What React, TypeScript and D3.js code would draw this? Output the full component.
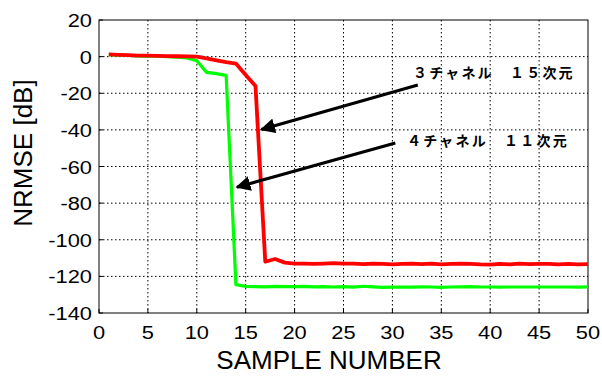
import React, { useEffect, useRef } from 'react';
import * as d3 from 'd3';

// sample index 1..50
const samples = d3.range(1, 51);

// 3 channel / 15 dim (red)
const red3ch = [
  1.2, 1.0, 0.8, 0.6, 0.5, 0.4, 0.3, 0.2, 0.1, 0,
  -1.0, -2.0, -3.0, -3.8, -10, -16, -112, -110.5, -112.5, -113,
  -113, -113.2, -113, -112.8, -113, -113, -113.3, -113, -113.2, -113.5,
  -113.2, -113, -113.3, -113, -113.5, -113.2, -113, -113.2, -113.5, -113.6,
  -113.2, -113.4, -113, -113.3, -113.2, -113.2, -113.4, -113.2, -113.5, -113.3,
];

// 4 channel / 11 dim (green)
const green4ch = [
  1.1, 0.8, 0.6, 0.4, 0.3, 0.2, 0.0, -0.3, -0.7, -2.3,
  -8.6, -9.3, -10.2, -124.5, -125.5, -125.6, -125.7, -125.5, -125.6, -125.6,
  -125.5, -125.7, -125.6, -125.8, -125.6, -125.9, -125.4, -125.7, -126, -125.9,
  -125.8, -125.9, -125.7, -125.8, -126, -125.8, -125.7, -125.6, -125.8, -125.8,
  -125.9, -125.8, -125.8, -125.8, -125.8, -125.8, -125.8, -125.8, -125.9, -125.7,
];

const xTicks = [0, 5, 10, 15, 20, 25, 30, 35, 40, 45, 50];
const yTicks = [20, 0, -20, -40, -60, -80, -100, -120, -140];

// annotations, in data units: text position, arrow tail, arrow head
const notes = [
  { label: '３チャネル　１５次元', tx: 32.1, ty: -11.5, x0: 32.6, y0: -15.5, x1: 16.6, y1: -39.8 },
  { label: '４チャネル　１１次元', tx: 31.5, ty: -48.6, x0: 30.3, y0: -47.2, x1: 14.1, y1: -71.3 },
];

const App = () => {
  const svgRef = useRef<SVGSVGElement>(null);

  useEffect(() => {
    const width = 602;
    const height = 376;
    const margin = { top: 20, right: 14, bottom: 63, left: 99 };

    const svg = d3.select(svgRef.current);
    svg.selectAll('*').remove();

    const x = d3.scaleLinear().domain([0, 50]).range([margin.left, width - margin.right]);
    const y = d3.scaleLinear().domain([-140, 20]).range([height - margin.bottom, margin.top]);

    const font = 'Arial, "Liberation Sans", sans-serif';

    // grid
    const grid = svg.append('g');
    grid.selectAll('.vg')
      .data(xTicks.slice(1, -1))
      .enter().append('line')
      .attr('x1', d => x(d)).attr('x2', d => x(d))
      .attr('y1', y(20)).attr('y2', y(-140))
      .attr('stroke', '#000').attr('stroke-width', 1)
      .attr('stroke-dasharray', '1.5,2.5');
    grid.selectAll('.hg')
      .data(yTicks.slice(1, -1))
      .enter().append('line')
      .attr('x1', x(0)).attr('x2', x(50))
      .attr('y1', d => y(d)).attr('y2', d => y(d))
      .attr('stroke', '#000').attr('stroke-width', 1)
      .attr('stroke-dasharray', '1.5,2.5');

    // frame
    svg.append('rect')
      .attr('x', x(0)).attr('y', y(20))
      .attr('width', x(50) - x(0)).attr('height', y(-140) - y(20))
      .attr('fill', 'none').attr('stroke', '#000').attr('stroke-width', 1);

    // inward ticks
    const tl = 4;
    svg.append('g').selectAll('line')
      .data(xTicks)
      .enter().append('line')
      .attr('x1', d => x(d)).attr('x2', d => x(d))
      .attr('y1', y(-140)).attr('y2', y(-140) - tl)
      .attr('stroke', '#000');
    svg.append('g').selectAll('line')
      .data(yTicks)
      .enter().append('line')
      .attr('x1', x(0)).attr('x2', x(0) + tl)
      .attr('y1', d => y(d)).attr('y2', d => y(d))
      .attr('stroke', '#000');

    // tick labels
    svg.append('g').selectAll('text')
      .data(xTicks)
      .enter().append('text')
      .attr('transform', d => `translate(${x(d)},${y(-140) + 26}) scale(1.15,1)`)
      .attr('text-anchor', 'middle')
      .attr('font-family', font).attr('font-size', 19)
      .text(d => d);
    svg.append('g').selectAll('text')
      .data(yTicks)
      .enter().append('text')
      .attr('transform', d => `translate(${x(0) - 7},${y(d) + 7}) scale(1.15,1)`)
      .attr('text-anchor', 'end')
      .attr('font-family', font).attr('font-size', 19)
      .text(d => d);

    // axis titles
    svg.append('text')
      .attr('x', 329).attr('y', 369)
      .attr('text-anchor', 'middle')
      .attr('font-family', font).attr('font-size', 26)
      .text('SAMPLE NUMBER');
    svg.append('text')
      .attr('transform', `translate(32,153) rotate(-90)`)
      .attr('text-anchor', 'middle')
      .attr('font-family', font).attr('font-size', 26)
      .text('NRMSE [dB]');

    // lines
    const line = d3.line<number>()
      .x((d, i) => x(samples[i]))
      .y(d => y(d));

    svg.append('path')
      .datum(green4ch)
      .attr('fill', 'none')
      .attr('stroke', '#00ff00')
      .attr('stroke-width', 3.2)
      .attr('stroke-linejoin', 'round')
      .attr('d', line);

    svg.append('path')
      .datum(red3ch)
      .attr('fill', 'none')
      .attr('stroke', '#ff0000')
      .attr('stroke-width', 3.8)
      .attr('stroke-linejoin', 'round')
      .attr('d', line);

    // arrows + labels
    svg.append('defs').append('marker')
      .attr('id', 'ah')
      .attr('viewBox', '0 0 10 10')
      .attr('refX', 9).attr('refY', 5)
      .attr('markerWidth', 5).attr('markerHeight', 5)
      .attr('markerUnits', 'strokeWidth')
      .attr('orient', 'auto')
      .append('path').attr('d', 'M0,0 L10,5 L0,10 z').attr('fill', '#000');

    notes.forEach(n => {
      svg.append('line')
        .attr('x1', x(n.x0)).attr('y1', y(n.y0))
        .attr('x2', x(n.x1)).attr('y2', y(n.y1))
        .attr('stroke', '#000').attr('stroke-width', 3)
        .attr('marker-end', 'url(#ah)');
      svg.append('text')
        .attr('x', x(n.tx)).attr('y', y(n.ty))
        .attr('font-family', '"Noto Sans CJK JP", sans-serif')
        .attr('font-size', 14).attr('font-weight', 700)
        .attr('letter-spacing', 2.2)
        .text(n.label);
    });
  }, []);

  return (
    <svg
      ref={svgRef}
      width={602}
      height={376}
      style={{ position: 'absolute', left: 0, top: 0, background: '#fff' }}
    />
  );
};

export default App;
